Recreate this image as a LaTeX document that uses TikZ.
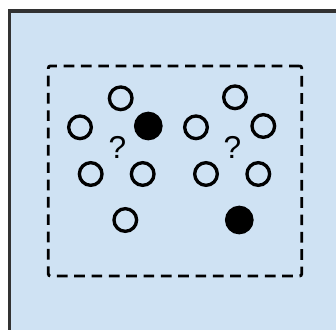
\documentclass[tikz,border=0pt]{standalone}
\usepackage{fontspec}
\setmainfont{Liberation Sans}
\usepackage{xcolor}
\definecolor{paleblue}{RGB}{207,226,243}
\definecolor{framegray}{RGB}{50,50,50}

\begin{document}
\begin{tikzpicture}[x=0.03cm, y=-0.03cm,
    emptydot/.style={circle, draw, line width=0.1cm, minimum size=0.68cm, inner sep=0pt},
    fulldot/.style={circle, draw, fill=black, line width=0.1cm, minimum size=0.76cm, inner sep=0pt},
    qlabel/.style={font=\fontsize{27}{30}\selectfont}]
    \useasboundingbox (0, 0) rectangle (336, 329);

    % Background panel
    \draw[fill=paleblue, draw=framegray, line width=0.11cm] (9.5, 11) rectangle (345, 340);

    % Dashed frame
    \node[draw, dashed, dash pattern=on 0.32cm off 0.2cm, line width=0.085cm,
          rounded corners=0.06cm, minimum width=7.6cm, minimum height=6.3cm] (frame) at (175, 171) {};

    % Left group
    \begin{scope}
        \node[emptydot] (l1) at (120.7, 98.3) {};
        \node[emptydot] (l2) at (80, 127.3) {};
        \node[fulldot] (l3) at (148.3, 126) {};
        \node[emptydot] (l4) at (90.7, 174) {};
        \node[emptydot] (l5) at (142.7, 174) {};
        \node[emptydot] (l6) at (125.3, 220) {};
        \node[qlabel] (lq) at (117.3, 147) {?};
    \end{scope}

    % Right group
    \begin{scope}
        \node[emptydot] (r1) at (235, 97.3) {};
        \node[emptydot] (r2) at (196, 127.3) {};
        \node[emptydot] (r3) at (263.3, 126) {};
        \node[emptydot] (r4) at (206, 174) {};
        \node[emptydot] (r5) at (258.3, 174) {};
        \node[fulldot] (r6) at (239.3, 220) {};
        \node[qlabel] (rq) at (232.3, 147) {?};
    \end{scope}
\end{tikzpicture}
\end{document}
